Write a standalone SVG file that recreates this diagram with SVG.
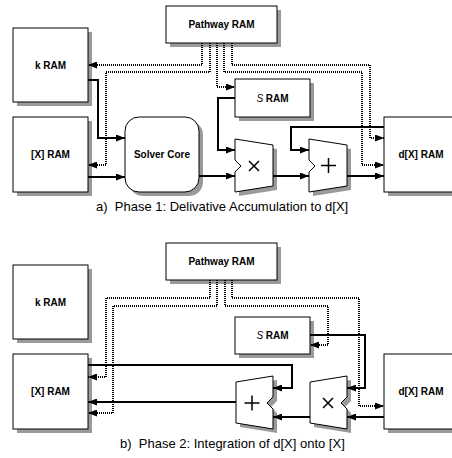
<svg xmlns="http://www.w3.org/2000/svg" width="452" height="458" viewBox="0 0 452 458">
<defs>
<marker id="ah" markerUnits="userSpaceOnUse" markerWidth="9" markerHeight="7" refX="9" refY="3.5" orient="auto">
<path d="M0,0 L9,3.5 L0,7 Z" fill="#000"/>
</marker>
</defs>
<style>
.box{fill:#fff;stroke:#000;stroke-width:1}
.sh{fill:#9a9a9a;stroke:none}
.lbl{font-family:"Liberation Sans",Arial,sans-serif;font-weight:bold;font-size:10px;text-anchor:middle;fill:#000}
.it{font-style:italic;font-weight:normal}
.cap{font-family:"Liberation Sans",Arial,sans-serif;font-size:13px;fill:#000;white-space:pre}
.w{fill:none;stroke:#000;stroke-width:2;marker-end:url(#ah)}
.d{fill:none;stroke:#000;stroke-width:2;stroke-dasharray:1 1;marker-end:url(#ah)}
.sym{fill:none;stroke:#000;stroke-width:1.5}
</style>
<rect width="452" height="458" fill="#fff"/>

<!-- Panel a nodes -->
<g id="a-pathway">
<rect class="sh" x="170" y="10" width="111" height="37"/>
<rect class="box" x="166" y="6" width="111" height="37"/>
<text class="lbl" x="221.5" y="28">Pathway RAM</text>
</g>
<g id="a-kram">
<rect class="sh" x="17" y="32" width="75" height="74"/>
<rect class="box" x="13" y="28" width="75" height="74"/>
<text class="lbl" x="50.5" y="68.5">k RAM</text>
</g>
<g id="a-xram">
<rect class="sh" x="17" y="121" width="75" height="75"/>
<rect class="box" x="13" y="117" width="75" height="75"/>
<text class="lbl" x="50.5" y="158">[X] RAM</text>
</g>
<g id="a-solver">
<rect class="sh" x="129" y="121" width="74" height="75" rx="14"/>
<rect class="box" x="125" y="117" width="74" height="75" rx="14"/>
<text class="lbl" x="162" y="158">Solver Core</text>
</g>
<g id="a-sram">
<rect class="sh" x="239" y="83" width="75" height="38"/>
<rect class="box" x="235" y="79" width="75" height="38"/>
<text class="lbl" x="272.5" y="102"><tspan class="it">S</tspan> RAM</text>
</g>
<g id="a-dxram">
<rect class="sh" x="388" y="121" width="75" height="75"/>
<rect class="box" x="384" y="117" width="75" height="75"/>
<text class="lbl" x="421" y="158">d[X] RAM</text>
</g>
<g id="a-mul">
<path class="sh" d="M239,143 L277,149 L277,190 L239,196 L239,176 L245,170 L239,164 Z"/>
<path class="box" d="M235,139 L273,145 L273,186 L235,192 L235,172 L241,166 L235,160 Z"/>
<path class="sym" d="M249,161 L259,171 M259,161 L249,171"/>
</g>
<g id="a-add">
<path class="sh" d="M313,143 L351,149 L351,190 L313,196 L313,176 L319,170 L313,164 Z"/>
<path class="box" d="M309,139 L347,145 L347,186 L309,192 L309,172 L315,166 L309,160 Z"/>
<path class="sym" d="M321,165.5 H336 M328.5,158 V173"/>
</g>

<!-- Panel a connectors -->
<g id="a-connectors">
<path class="w" d="M88,80 H98 V138 H125"/>
<path class="w" d="M88,177 H125"/>
<path class="w" d="M199,176 H235"/>
<path class="w" d="M235,98 H218 V150 H235"/>
<path class="w" d="M273,176 H309"/>
<path class="w" d="M384,127 H291 V150 H309"/>
<path class="w" d="M347,176 H384"/>
<path class="d" d="M202,43 V65 H88"/>
<path class="d" d="M210,43 V72 H106 V165 H88"/>
<path class="d" d="M217,43 V87 H235"/>
<path class="d" d="M224,43 V72 H362 V165 H384"/>
<path class="d" d="M232,43 V65 H370 V138 H384"/>
</g>
<text class="cap" x="96" y="211" xml:space="preserve">a)  Phase 1: Delivative Accumulation to d[X]</text>

<!-- Panel b nodes -->
<g id="b-pathway">
<rect class="sh" x="170" y="247" width="111" height="37"/>
<rect class="box" x="166" y="243" width="111" height="37"/>
<text class="lbl" x="221.5" y="265">Pathway RAM</text>
</g>
<g id="b-kram">
<rect class="sh" x="17" y="269" width="75" height="74"/>
<rect class="box" x="13" y="265" width="75" height="74"/>
<text class="lbl" x="50.5" y="305.5">k RAM</text>
</g>
<g id="b-xram">
<rect class="sh" x="17" y="358" width="75" height="75"/>
<rect class="box" x="13" y="354" width="75" height="75"/>
<text class="lbl" x="50.5" y="395">[X] RAM</text>
</g>
<g id="b-sram">
<rect class="sh" x="239" y="321" width="75" height="37"/>
<rect class="box" x="235" y="317" width="75" height="37"/>
<text class="lbl" x="272.5" y="339"><tspan class="it">S</tspan> RAM</text>
</g>
<g id="b-dxram">
<rect class="sh" x="388" y="358" width="75" height="75"/>
<rect class="box" x="384" y="354" width="75" height="75"/>
<text class="lbl" x="421" y="395">d[X] RAM</text>
</g>
<g id="b-add">
<path class="sh" d="M277,380 L240,386 L240,427 L277,433 L277,413 L271,407 L277,401 Z"/>
<path class="box" d="M273,376 L236,382 L236,423 L273,429 L273,409 L267,403 L273,397 Z"/>
<path class="sym" d="M244.5,403 H259.5 M252,395.5 V410.5"/>
</g>
<g id="b-mul">
<path class="sh" d="M351,380 L314,386 L314,427 L351,433 L351,413 L345,407 L351,401 Z"/>
<path class="box" d="M347,376 L310,382 L310,423 L347,429 L347,409 L341,403 L347,397 Z"/>
<path class="sym" d="M323,398 L333,408 M333,398 L323,408"/>
</g>

<!-- Panel b connectors -->
<g id="b-connectors">
<path class="w" d="M88,365 H292 V388 H273"/>
<path class="w" d="M236,402 H88"/>
<path class="w" d="M310,417 H273"/>
<path class="w" d="M384,417 H347"/>
<path class="w" d="M310,335 H365 V388 H347"/>
<path class="d" d="M210,280 V298 H106 V377 H88"/>
<path class="d" d="M217,280 V306 H113 V413 H88"/>
<path class="d" d="M225,280 V306 H328 V345 H310"/>
<path class="d" d="M232,280 V298 H359 V406 H384"/>
</g>
<text class="cap" x="120" y="448" xml:space="preserve">b)  Phase 2: Integration of d[X] onto [X]</text>
</svg>
